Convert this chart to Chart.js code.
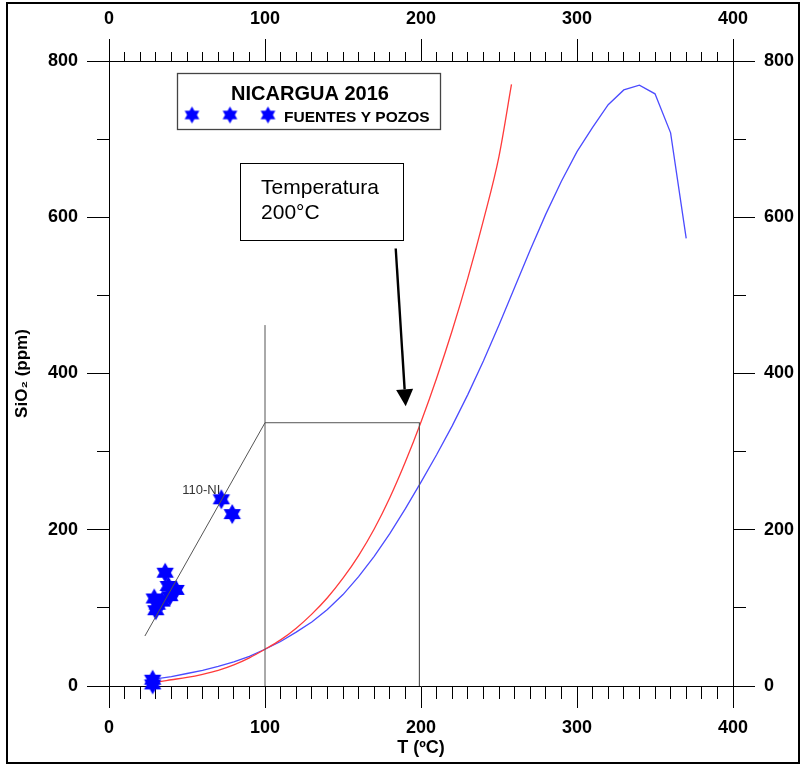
<!DOCTYPE html>
<html>
<head>
<meta charset="utf-8">
<title>SiO2 vs T - Nicaragua 2016</title>
<script src="https://cdn.jsdelivr.net/npm/chart.js@4.4.1/dist/chart.umd.min.js"></script>
<style>
  html, body { margin: 0; padding: 0; background: #fff; }
  #wrap { position: relative; width: 804px; height: 766px; }
</style>
</head>
<body>
<div id="wrap"><canvas id="sioChart" width="804" height="766"></canvas></div>
<script>
// red curve (T in °C, SiO2 in ppm)
let redT = [25, 30, 40, 50, 60, 70, 80, 90, 100, 110, 120, 130, 140, 150, 160, 170, 180, 190, 200, 210, 220, 230, 240, 250, 258];
let redSiO2 = [4, 5, 8, 11, 15, 20, 27, 36, 47, 59, 74, 92, 113, 138, 167, 201, 241, 287, 338, 394, 455, 522, 596, 678, 770];

// blue curve
let blueT = [25, 30, 40, 50, 60, 70, 80, 90, 100, 110, 120, 130, 140, 150, 160, 170, 180, 190, 200, 210, 220, 230, 240, 250, 260, 270, 280, 290, 300, 310, 320, 330, 340, 350, 360, 370];
let blueSiO2 = [8, 9, 12, 16, 20, 25, 31, 38, 47, 57, 69, 82, 98, 117, 140, 166, 195, 227, 261, 296, 333, 373, 416, 462, 510, 558, 604, 646, 684, 715, 744, 763, 769, 758, 708, 573];

// springs and wells
let sampleT = [36, 38, 43, 39, 29, 31, 34, 30, 28, 28, 72, 79];
let sampleSiO2 = [145, 128, 123, 115, 112, 104, 108, 97, 2, 8, 239, 220];
let sampleNames = ["", "", "", "", "", "", "", "", "", "", "110-NI", ""];

// mixing line and 200°C construction
let guideT = [23, 100, 199, 199];
let guideSiO2 = [64, 337, 337, 0];
let markT = [100, 100];
let markSiO2 = [0, 462];

// axis ticks
let xLabels = [0, 100, 200, 300, 400];
let yLabels = [0, 200, 400, 600, 800];
let xMinorStep = 10;
let yMinorStep = 100;

// arrow + note box (data coords)
let arrowFrom = [183.8, 560];
let arrowTo = [190.2, 358];
let noteBox = [84, 669.4, 188.5, 571];
let noteLines = ["Temperatura", "200°C"];

const FONT = "Arial, 'Liberation Sans', sans-serif";

function toPoints(xs, ys) {
  return xs.map((x, i) => ({ x: x, y: ys[i] }));
}

function makeStar(r, color) {
  let c = document.createElement("canvas");
  let s = Math.ceil(r * 2 + 2);
  c.width = s;
  c.height = s;
  let g = c.getContext("2d");
  g.fillStyle = color;
  g.beginPath();
  for (let i = 0; i < 12; i++) {
    let a = -Math.PI / 2 + i * Math.PI / 6;
    let rr = i % 2 ? r * 0.577 : r;
    g.lineTo(s / 2 + rr * Math.cos(a), s / 2 + rr * Math.sin(a));
  }
  g.closePath();
  g.fill();
  return c;
}

let bigStar = makeStar(10, "#0000ff");
let smallStar = makeStar(8.5, "#0000ff");

function tickFont() {
  return { family: FONT, size: 18, weight: "bold" };
}

const decor = {
  id: "decor",
  beforeDatasetsDraw(chart) {
    let ctx = chart.ctx;
    let xs = chart.scales.x, ys = chart.scales.y;
    ctx.save();
    ctx.font = "13px " + FONT;
    ctx.fillStyle = "#333";
    ctx.textAlign = "right";
    ctx.textBaseline = "alphabetic";
    sampleNames.forEach((n, i) => {
      if (!n) return;
      ctx.fillText(n, xs.getPixelForValue(sampleT[i]) - 1, ys.getPixelForValue(sampleSiO2[i]) - 5);
    });
    ctx.restore();
  },
  afterDatasetsDraw(chart) {
    let ctx = chart.ctx;
    let xs = chart.scales.x, ys = chart.scales.y;
    let area = chart.chartArea;
    ctx.save();

    // arrow
    let ax1 = xs.getPixelForValue(arrowFrom[0]), ay1 = ys.getPixelForValue(arrowFrom[1]);
    let ax2 = xs.getPixelForValue(arrowTo[0]), ay2 = ys.getPixelForValue(arrowTo[1]);
    let ang = Math.atan2(ay2 - ay1, ax2 - ax1);
    let headL = 17, headW = 8.5;
    let bx = ax2 - headL * Math.cos(ang), by = ay2 - headL * Math.sin(ang);
    ctx.strokeStyle = "#000";
    ctx.lineWidth = 2.4;
    ctx.beginPath();
    ctx.moveTo(ax1, ay1);
    ctx.lineTo(bx, by);
    ctx.stroke();
    ctx.fillStyle = "#000";
    ctx.beginPath();
    ctx.moveTo(ax2, ay2);
    ctx.lineTo(bx + headW * Math.sin(ang), by - headW * Math.cos(ang));
    ctx.lineTo(bx - headW * Math.sin(ang), by + headW * Math.cos(ang));
    ctx.closePath();
    ctx.fill();

    // note box
    let nx1 = xs.getPixelForValue(noteBox[0]), ny1 = ys.getPixelForValue(noteBox[1]);
    let nx2 = xs.getPixelForValue(noteBox[2]), ny2 = ys.getPixelForValue(noteBox[3]);
    ctx.fillStyle = "#fff";
    ctx.fillRect(nx1, ny1, nx2 - nx1, ny2 - ny1);
    ctx.lineWidth = 1;
    ctx.strokeStyle = "#000";
    ctx.strokeRect(Math.round(nx1) + 0.5, Math.round(ny1) + 0.5, Math.round(nx2 - nx1), Math.round(ny2 - ny1));
    ctx.fillStyle = "#000";
    ctx.font = "21px " + FONT;
    ctx.textAlign = "left";
    ctx.textBaseline = "alphabetic";
    ctx.fillText(noteLines[0], nx1 + 21, ny1 + 31);
    ctx.fillText(noteLines[1], nx1 + 21, ny1 + 56);

    // legend
    let lx = area.left + 68, ly = area.top + 12, lw = 263, lh = 56;
    ctx.fillStyle = "#fff";
    ctx.fillRect(lx, ly, lw, lh);
    ctx.strokeStyle = "#444";
    ctx.lineWidth = 1.3;
    ctx.strokeRect(lx + 0.5, ly + 0.5, lw, lh);
    ctx.fillStyle = "#000";
    ctx.font = "bold 20px " + FONT;
    ctx.textAlign = "center";
    ctx.fillText("NICARGUA 2016", lx + 133, ly + 27);
    ctx.font = "bold 15.5px " + FONT;
    ctx.textAlign = "left";
    ctx.fillText("FUENTES Y POZOS", lx + 107, ly + 49);
    [15, 53, 91].forEach(dx => {
      ctx.drawImage(smallStar, lx + dx - smallStar.width / 2, ly + 42 - smallStar.height / 2);
    });
    ctx.restore();
  },
  afterDraw(chart) {
    let ctx = chart.ctx;
    ctx.save();
    ctx.strokeStyle = "#000";
    ctx.lineWidth = 2;
    ctx.strokeRect(7, 3, 792, 760);
    ctx.restore();
  }
};

function minorDash(outward, len, full) {
  // outward: tick drawn from the axis line outward; otherwise from outer end inward
  return (c) => {
    if (!c.tick || c.tick.major) return [];
    return outward ? [len, 200] : [0, full - len, len, 200];
  };
}

function axisOpts(pos, labels, step, dash, size) {
  return {
    type: "linear",
    axis: (pos === "top" || pos === "bottom") ? "x" : "y",
    position: pos,
    min: labels[0],
    max: labels[labels.length - 1],
    afterFit(s) {
      if (pos === "left" || pos === "right") s.width = size;
      else s.height = size;
    },
    afterTickToLabelConversion(s) {
      s.ticks.forEach(t => { t.major = labels.includes(t.value); });
    },
    ticks: {
      stepSize: step,
      autoSkip: false,
      maxRotation: 0,
      padding: 9,
      color: "#000",
      font: tickFont(),
      callback: (v) => labels.includes(v) ? String(v) : ""
    },
    grid: {
      drawOnChartArea: false,
      drawTicks: true,
      tickLength: 22,
      tickColor: "#000",
      tickWidth: 1,
      tickBorderDash: dash
    },
    border: { display: true, color: "#000", width: 1 }
  };
}

let scales = {
  x: axisOpts("bottom", xLabels, xMinorStep, minorDash(true, 12, 22), 80),
  x2: axisOpts("top", xLabels, xMinorStep, minorDash(false, 9, 22), 61),
  y: axisOpts("left", yLabels, yMinorStep, minorDash(false, 12, 22), 109),
  y2: axisOpts("right", yLabels, yMinorStep, minorDash(true, 12, 22), 71)
};
scales.x.title = { display: true, text: "T (ºC)", color: "#000", font: { family: FONT, size: 18, weight: "bold" }, padding: { top: 0, bottom: 7 } };
scales.y.title = { display: true, text: "SiO₂ (ppm)", color: "#000", font: { family: FONT, size: 17, weight: "bold" }, padding: { top: 12, bottom: 0 } };

Chart.defaults.font.family = FONT;

new Chart(document.getElementById("sioChart"), {
  type: "scatter",
  data: {
    datasets: [
      {
        label: "guide",
        data: toPoints(guideT, guideSiO2),
        showLine: true,
        borderColor: "#555",
        borderWidth: 1,
        pointRadius: 0,
        order: 0
      },
      {
        label: "200C",
        data: toPoints(markT, markSiO2),
        showLine: true,
        borderColor: "#555",
        borderWidth: 1,
        pointRadius: 0,
        order: 0
      },
      {
        label: "FUENTES Y POZOS",
        data: toPoints(sampleT, sampleSiO2),
        pointStyle: bigStar,
        pointRadius: 10,
        clip: false,
        order: 1
      },
      {
        label: "red",
        data: toPoints(redT, redSiO2),
        showLine: true,
        borderColor: "#ff3a3a",
        borderWidth: 1.3,
        pointRadius: 0,
        cubicInterpolationMode: "monotone",
        order: 2
      },
      {
        label: "blue",
        data: toPoints(blueT, blueSiO2),
        showLine: true,
        borderColor: "#4b4bff",
        borderWidth: 1.3,
        pointRadius: 0,
        tension: 0,
        order: 2
      }
    ]
  },
  options: {
    responsive: false,
    animation: false,
    devicePixelRatio: 1,
    layout: { padding: 0 },
    scales: scales,
    plugins: {
      legend: { display: false },
      tooltip: { enabled: false }
    }
  },
  plugins: [decor]
});
</script>
</body>
</html>
